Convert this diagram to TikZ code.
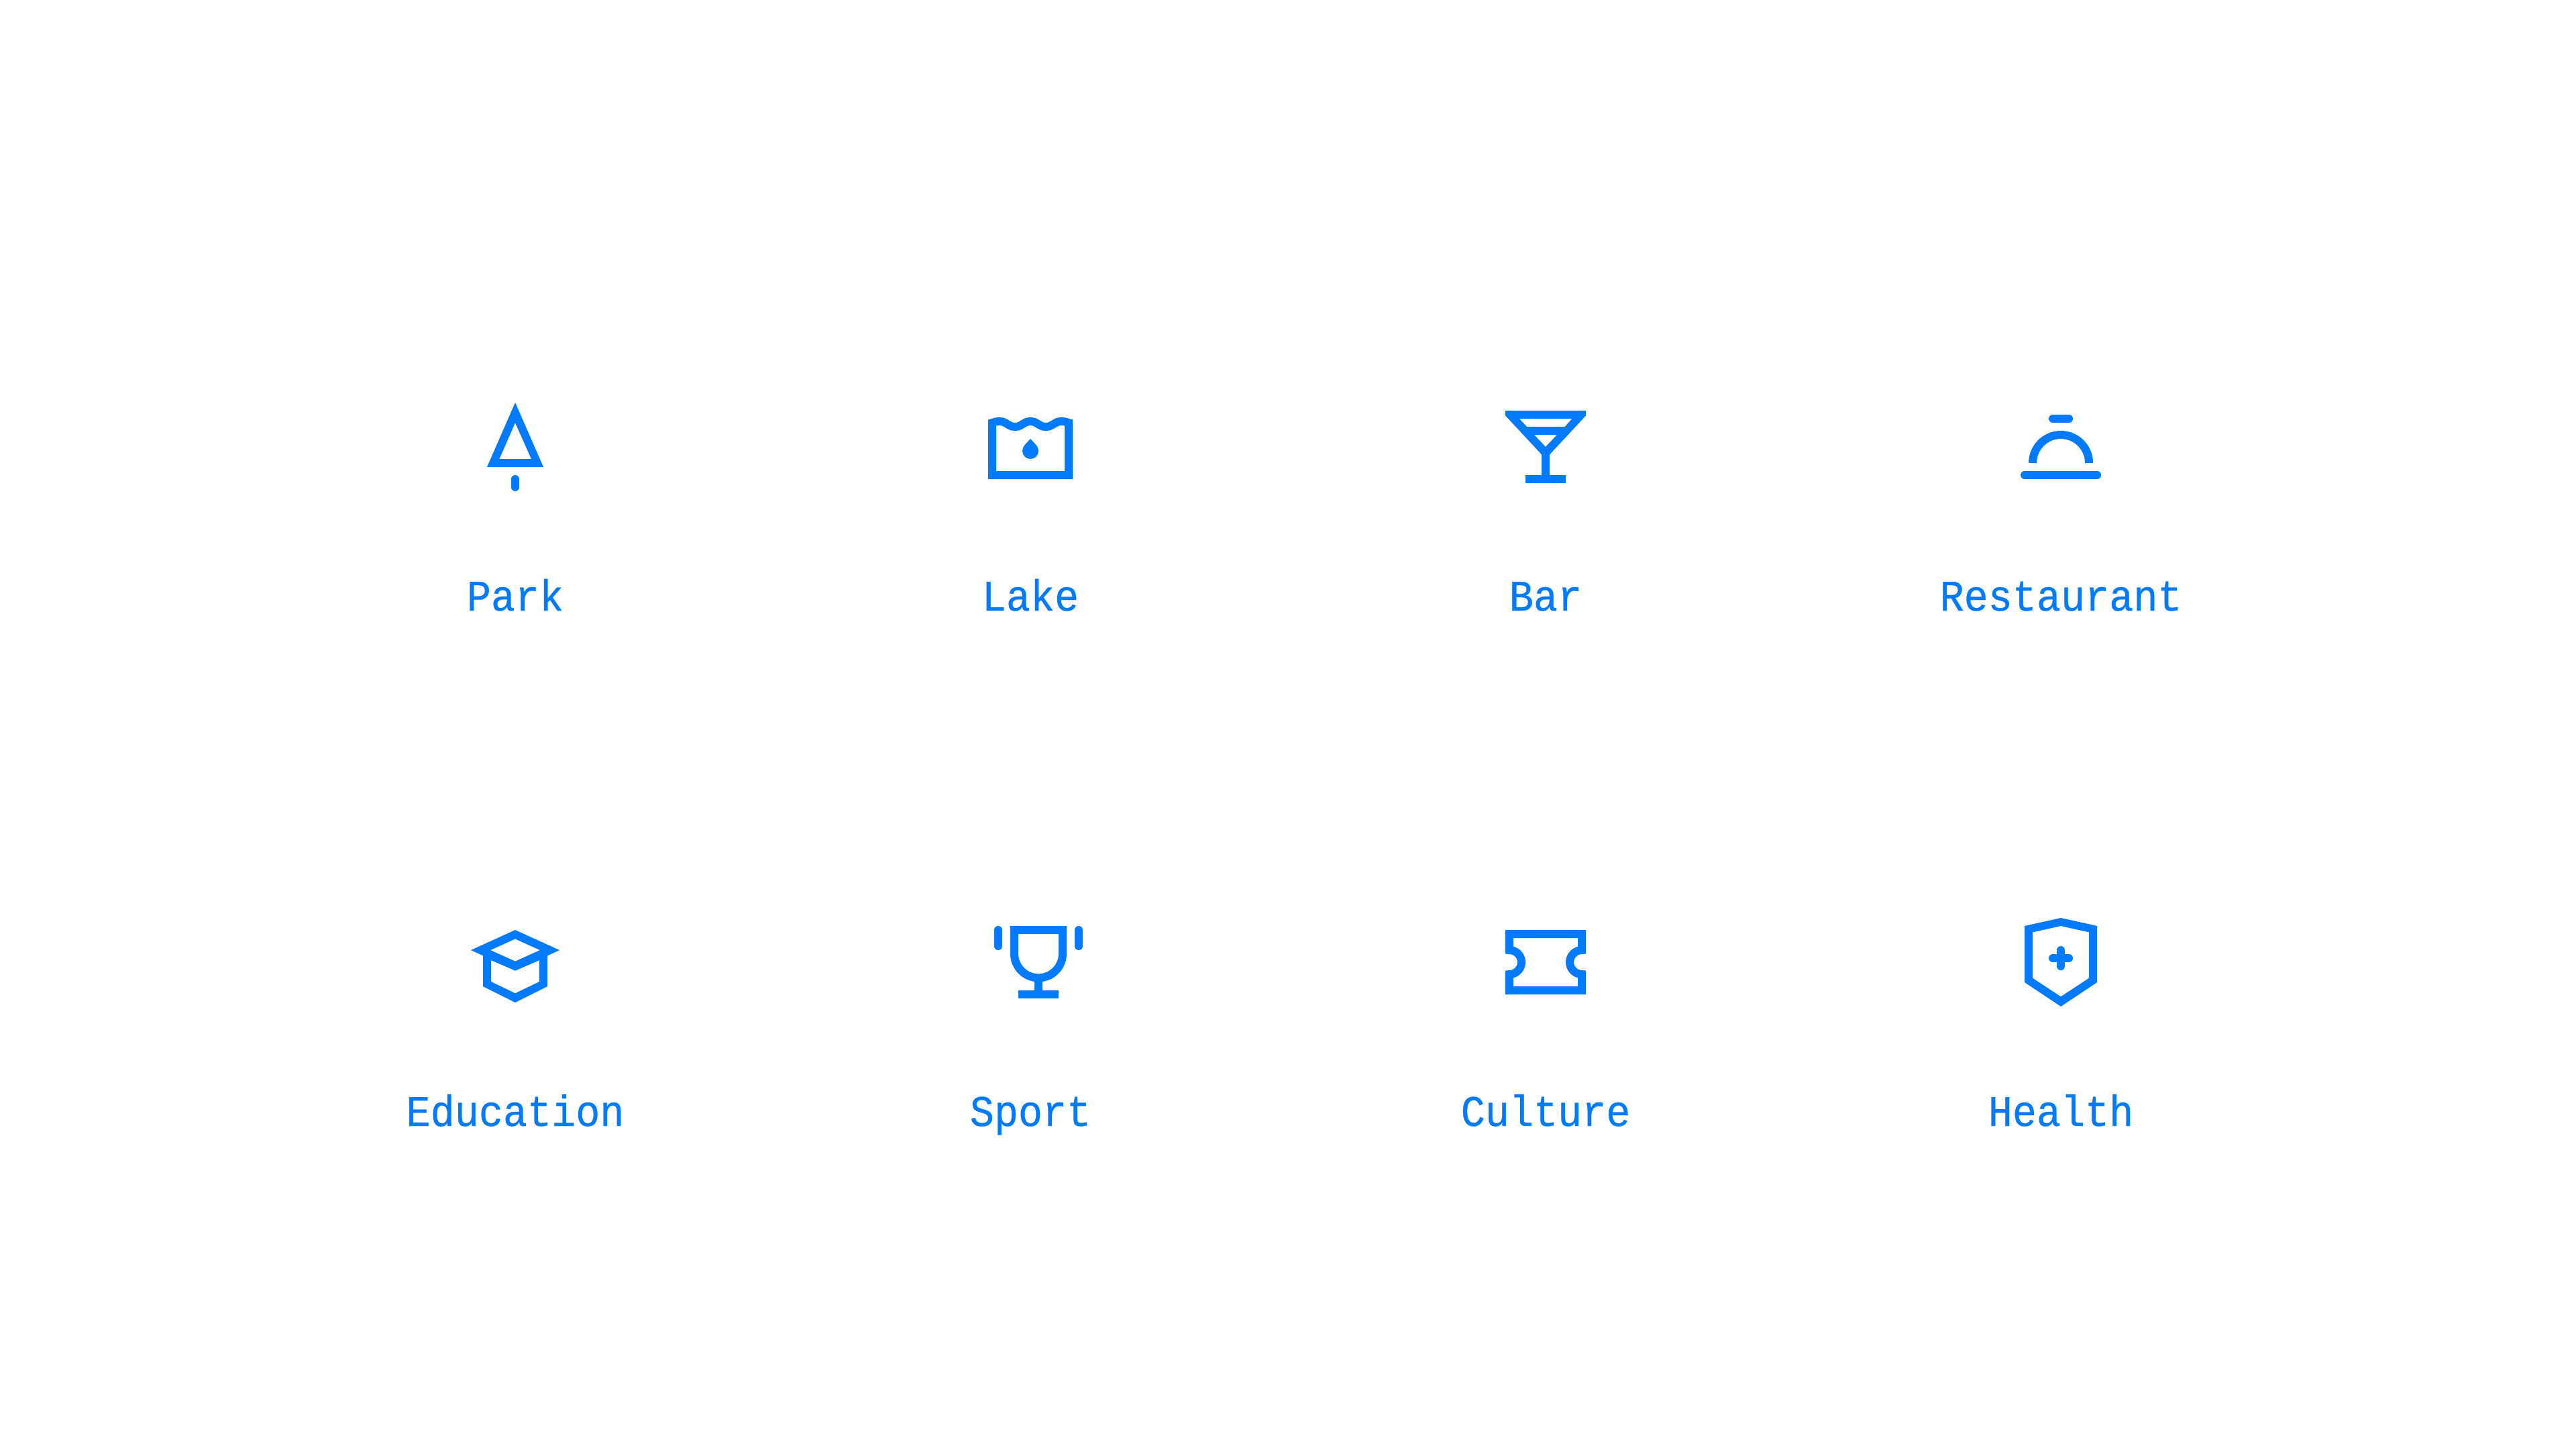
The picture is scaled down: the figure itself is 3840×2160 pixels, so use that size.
\documentclass[tikz,border=0pt]{standalone}
\usepackage{fontspec}
\newfontfamily\labelfont[FakeStretch=0.925,FakeBold=0.5]{Liberation Mono}
\definecolor{iconblue}{RGB}{0,122,255}
\tikzset{
  iconfill/.style={fill=iconblue,draw=none,even odd rule},
  iconline/.style={draw=iconblue,line width=0.12cm,miter limit=20,fill=none},
  iconround/.style={iconline,line cap=round},
  iconlabel/.style={text=iconblue,anchor=base,inner sep=0pt,font=\labelfont\fontsize{18.49pt}{22pt}\selectfont},
  zoomed/.style={x=0.01cm/3,y=-0.01cm/3}
}
\begin{document}
\begin{tikzpicture}[x=0.01cm,y=-0.01cm]
\fill[white] (0,0) rectangle (3840,2160);
\useasboundingbox (0,0) rectangle (3840,2160);

% Park
\begin{scope}[shift={(660,570)},zoomed]
  \fill[iconfill] (324,90) -- (450,378) -- (198,378) -- cycle
                  (324,180) -- (396,342) -- (253,342) -- cycle;
  \draw[iconround] (324,432) -- (324,468);
\end{scope}
% Lake
\begin{scope}[shift={(1430,570)},zoomed]
  \draw[iconline] (147,414) -- (147,180)
    .. controls (156,177) and (166,174) .. (180,174)
    .. controls (213,174) and (216,198) .. (249,198)
    .. controls (282,198) and (285,174) .. (318,174)
    .. controls (351,174) and (354,198) .. (387,198)
    .. controls (420,198) and (423,174) .. (456,174)
    .. controls (470,174) and (480,177) .. (489,180)
    -- (489,414) -- cycle;
  \fill[iconfill] (318,252) -- (293,279)
    .. controls (286,286) and (282,296) .. (282,306)
    .. controls (282,326) and (298,342) .. (318,342)
    .. controls (338,342) and (354,326) .. (354,306)
    .. controls (354,296) and (350,286) .. (343,279) -- cycle;
\end{scope}
% Bar
\begin{scope}[shift={(2195,570)},zoomed]
  \fill[iconfill] (147,126) -- (507,126) -- (507,148) -- (345,322) -- (345,414)
    -- (417,414) -- (417,450) -- (237,450) -- (237,414) -- (309,414) -- (309,322)
    -- (147,148) -- cycle
    (209,162) -- (445,162) -- (413,198) -- (243,198) -- cycle
    (276,234) -- (378,234) -- (327,288) -- cycle;
\end{scope}
% Restaurant
\begin{scope}[shift={(2960,570)},zoomed]
  \draw[iconround] (300,162) -- (372,162);
  \draw[iconline] (210,360) .. controls (210,290.4) and (266.4,234) .. (336,234)
    .. controls (405.6,234) and (462,290.4) .. (462,360);
  \draw[iconround] (174,414) -- (498,414);
\end{scope}
% Education
\begin{scope}[shift={(660,1340)},zoomed]
  \fill[iconfill] (324,138) -- (522,228) -- (468,253) -- (468,390) -- (324,462)
    -- (180,390) -- (180,253) -- (126,228) -- cycle
    (324,178) -- (435,228) -- (324,278) -- (213,228) -- cycle
    (216,273) -- (324,320) -- (432,273) -- (432,369) -- (324,421) -- (216,369) -- cycle;
\end{scope}
% Sport
\begin{scope}[shift={(1430,1340)},zoomed]
  \draw[iconline] (246,138) -- (462,138) -- (462,244)
    .. controls (462,303.6) and (413.6,352) .. (354,352)
    .. controls (294.4,352) and (246,303.6) .. (246,244) -- cycle;
  \draw[iconline] (354,352) -- (354,426);
  \draw[iconline] (264,426) -- (444,426);
  \draw[iconround] (174,138) -- (174,210);
  \draw[iconround] (534,138) -- (534,210);
\end{scope}
% Culture
\begin{scope}[shift={(2195,1340)},zoomed]
  \draw[iconline] (165,156) -- (489,156) -- (489,228)
    .. controls (459.2,228) and (435,252.2) .. (435,282)
    .. controls (435,311.8) and (459.2,336) .. (489,336)
    -- (489,408) -- (165,408) -- (165,336)
    .. controls (194.8,336) and (219,311.8) .. (219,282)
    .. controls (219,252.2) and (194.8,228) .. (165,228) -- cycle;
\end{scope}
% Health
\begin{scope}[shift={(2960,1340)},zoomed]
  \fill[iconfill] (336,84) -- (498,120) -- (498,372) -- (336,480) -- (174,372) -- (174,120) -- cycle
    (336,120) -- (462,148) -- (462,353) -- (336,436) -- (210,353) -- (210,148) -- cycle;
  \draw[iconround] (300,264) -- (372,264);
  \draw[iconround] (336,228) -- (336,300);
\end{scope}

\node[iconlabel] (park) at (768,910) {Park};
\node[iconlabel] (lake) at (1536,910) {Lake};
\node[iconlabel] (bar) at (2304,910) {Bar};
\node[iconlabel] (restaurant) at (3072,910) {Restaurant};
\node[iconlabel] (education) at (768,1678) {Education};
\node[iconlabel] (sport) at (1536,1678) {Sport};
\node[iconlabel] (culture) at (2304,1678) {Culture};
\node[iconlabel] (health) at (3072,1678) {Health};
\end{tikzpicture}
\end{document}
